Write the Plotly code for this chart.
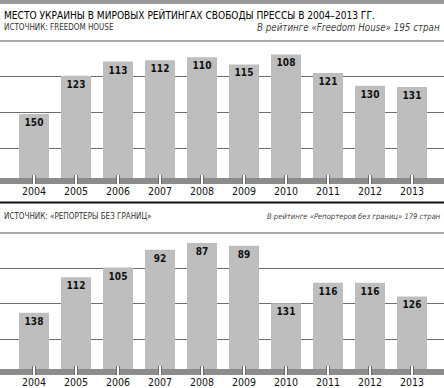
import plotly.graph_objects as go

# ---------------- data ----------------
years = ["2004", "2005", "2006", "2007", "2008", "2009", "2010", "2011", "2012", "2013"]
fh_rank = [150, 123, 113, 112, 110, 115, 108, 121, 130, 131]      # Freedom House
fh_total = 195
rsf_rank = [138, 112, 105, 92, 87, 89, 131, 116, 116, 126]        # Reporters w/o Borders
rsf_total = 179

title_text = "МЕСТО УКРАИНЫ В МИРОВЫХ РЕЙТИНГАХ СВОБОДЫ ПРЕССЫ В 2004–2013 ГГ."
src_fh = "ИСТОЧНИК: FREEDOM HOUSE"
note_fh = "В рейтинге «Freedom House» 195 стран"
src_rsf = "ИСТОЧНИК: «РЕПОРТЕРЫ БЕЗ ГРАНИЦ»"
note_rsf = "В рейтинге «Репортеров без границ» 179 стран"

# ---------------- layout helpers ----------------
W, H = 444, 388
FONT = "DejaVu Sans Condensed, Liberation Sans, sans-serif"
BAR = "#bebebe"
BAND = "#8c8c8c"
GRID = "#6e6e6e"


def py(p):  # pixel (from top) -> paper
    return 1 - p / H


def px(p):
    return p / W


fh_h = [fh_total - r for r in fh_rank]
rsf_h = [rsf_total - r for r in rsf_rank]

fig = go.Figure()
for xa, ya, h, r in (("x", "y", fh_h, fh_rank), ("x2", "y2", rsf_h, rsf_rank)):
    fig.add_trace(go.Bar(
        x=years, y=h, text=[str(v) for v in r], xaxis=xa, yaxis=ya,
        marker=dict(color=BAR, line=dict(width=0)),
        textposition="inside", insidetextanchor="end",
        textfont=dict(family=FONT, size=10, color="#111", weight="bold"),
        cliponaxis=False, hoverinfo="skip",
    ))

# top panel: baseline 178px, top 41px ; bottom panel: baseline 369px, top 233px
k1 = 1.42
k2 = 1.37
top1, base1 = 41, 178
top2, base2 = 233, 369
R1 = (base1 - top1) / k1
R2 = (base2 - top2) / k2
grid1 = [(base1 - p) / k1 for p in (148, 112, 76)]
grid2 = [(base2 - p) / k2 for p in (339, 303, 268)]

xr = [-34 / 42, (W - 34) / 42]
xcommon = dict(range=xr, showgrid=False, zeroline=False, showline=False,
               ticks="outside", ticklen=3, tickcolor="rgba(0,0,0,0)",
               tickfont=dict(family=FONT, size=10.5, color="#111"), fixedrange=True)

fig.update_layout(
    width=W, height=H, margin=dict(l=0, r=0, t=0, b=0),
    paper_bgcolor="white", plot_bgcolor="rgba(0,0,0,0)",
    showlegend=False, bargap=1 - 30 / 42,
    xaxis=dict(domain=[0, 1], anchor="y", **xcommon),
    xaxis2=dict(domain=[0, 1], anchor="y2", **xcommon),
    yaxis=dict(domain=[py(base1), py(top1)], range=[0, R1], tickvals=grid1,
               showticklabels=False, gridcolor=GRID, gridwidth=1, zeroline=False,
               fixedrange=True),
    yaxis2=dict(domain=[py(base2), py(top2)], range=[0, R2], tickvals=grid2,
                showticklabels=False, gridcolor=GRID, gridwidth=1, zeroline=False,
                fixedrange=True),
    font=dict(family=FONT),
)

shapes = []
# top grey strip
shapes.append(dict(type="rect", xref="paper", yref="paper", x0=0, x1=1, y0=py(4), y1=1,
                   fillcolor="#9a9a9a", line=dict(width=0), layer="below"))
# top lines of panels
for t in (top1, top2):
    shapes.append(dict(type="line", xref="paper", yref="paper", x0=0, x1=1, y0=py(t), y1=py(t),
                       line=dict(color="#a8a8a8", width=2), layer="below"))
# baseline bands
for b in (base1, base2):
    shapes.append(dict(type="rect", xref="paper", yref="paper", x0=0, x1=1,
                       y0=py(b + 6), y1=py(b), fillcolor=BAND, line=dict(width=0), layer="above"))
# separator
shapes.append(dict(type="line", xref="paper", yref="paper", x0=0, x1=1, y0=py(202.5), y1=py(202.5),
                   line=dict(color="#111", width=2)))
# tick marks
for i, _ in enumerate(years):
    for xa, b in (("x", base1), ("x2", base2)):
        shapes.append(dict(type="line", xref=xa, yref="paper", x0=i, x1=i,
                           y0=py(b + 6), y1=py(b - 3), line=dict(color="#6a6a6a", width=4)))
        shapes.append(dict(type="line", xref=xa, yref="paper", x0=i, x1=i,
                           y0=py(b + 6), y1=py(b - 3), line=dict(color="white", width=2)))
fig.update_layout(shapes=shapes)

ann = []
ann.append(dict(text=title_text, x=px(2), y=py(15), xref="paper", yref="paper",
                xanchor="left", yanchor="middle", showarrow=False,
                font=dict(family=FONT, size=10.1, color="#000")))
ann.append(dict(text=src_fh, x=px(2), y=py(28), xref="paper", yref="paper",
                xanchor="left", yanchor="middle", showarrow=False,
                font=dict(family=FONT, size=8, color="#333")))
ann.append(dict(text=note_fh, x=px(442), y=py(27.5), xref="paper", yref="paper",
                xanchor="right", yanchor="middle", showarrow=False,
                font=dict(family=FONT, size=9.7, color="#444", style="italic")))
ann.append(dict(text=src_rsf, x=px(2), y=py(216), xref="paper", yref="paper",
                xanchor="left", yanchor="middle", showarrow=False,
                font=dict(family=FONT, size=8, color="#333")))
ann.append(dict(text=note_rsf, x=px(443), y=py(216), xref="paper", yref="paper",
                xanchor="right", yanchor="middle", showarrow=False,
                font=dict(family=FONT, size=7.6, color="#444", style="italic")))
fig.update_layout(annotations=ann)

fig.write_html("out.html", config={"displayModeBar": False},
               post_script="document.body.style.margin='0px';document.body.style.overflow='hidden';")
